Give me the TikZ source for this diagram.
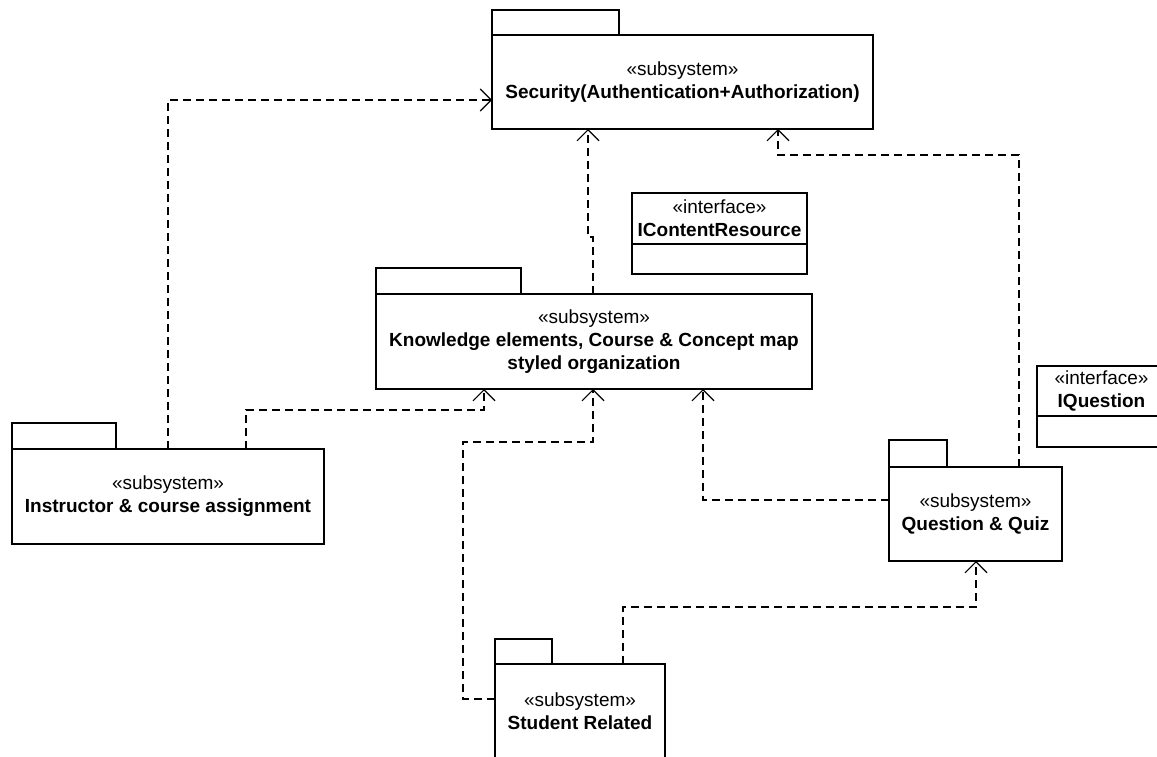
\documentclass[tikz,border=0pt]{standalone}
\usepackage{fontspec}
\setmainfont{Liberation Sans}
\usetikzlibrary{arrows.meta}
\begin{document}
\begin{tikzpicture}[x=1pt,y=-1pt,
  box/.style={draw, line width=1.8pt, rectangle, inner sep=0pt, outer sep=0pt, align=center,
    font=\fontsize{19}{23}\selectfont},
  dep/.style={draw, line width=1.9pt, dash pattern=on 8pt off 5pt,
    -{Straight Barb[length=11pt,width=22pt,line width=1.1pt]}}]
\useasboundingbox (0,0) rectangle (1157,757);
\clip (0,0) rectangle (1157,757);

% Security
\node[box, minimum width=127pt, minimum height=25pt] (sectab) at (555.5,22.5) {};
\node[box, minimum width=381pt, minimum height=94pt] (sec) at (682.5,82) {«subsystem»\\\textbf{Security(Authentication+Authorization)}};

% Knowledge
\node[box, minimum width=145pt, minimum height=26pt] (knowtab) at (448.5,281) {};
\node[box, minimum width=436pt, minimum height=95pt] (know) at (594,341.5) {«subsystem»\\\textbf{Knowledge elements, Course \& Concept map}\\\textbf{styled organization}};

% Instructor
\node[box, minimum width=104pt, minimum height=26pt] (instrtab) at (64,436) {};
\node[box, minimum width=312pt, minimum height=95pt] (instr) at (168,496.5) {«subsystem»\\\textbf{Instructor \& course assignment}};

% Question & Quiz
\node[box, minimum width=58pt, minimum height=27pt] (qqtab) at (918,453.5) {};
\node[box, minimum width=173pt, minimum height=94pt] (qq) at (975.5,514) {«subsystem»\\\textbf{Question \& Quiz}};

% Student Related
\node[box, minimum width=57pt, minimum height=25pt] (stutab) at (523.5,651.5) {};
\node[box, minimum width=170pt, minimum height=94pt] (stu) at (580,711) {«subsystem»\\\textbf{Student Related}};

% Interfaces
\node[box, minimum width=175pt, minimum height=51pt] (icr) at (719.5,218.5) {«interface»\\\textbf{IContentResource}};
\node[box, minimum width=175pt, minimum height=30pt] (icrb) at (719.5,259) {};
\node[box, minimum width=129pt, minimum height=50pt] (iq) at (1101.5,391) {«interface»\\\textbf{IQuestion}};
\node[box, minimum width=129pt, minimum height=31pt] (iqb) at (1101.5,431.5) {};

% Dependencies
\draw[dep] ([xshift=156pt]instr.north west) |- ([yshift=-18pt]sec.west);
\draw[dep] ([xshift=234pt]instr.north west) -- ++(0,-39) -| ([xshift=108pt]know.south west);
\draw[dep] ([xshift=217pt]know.north west) -- ++(0,-57) -| ([xshift=96pt]sec.south west);
\draw[dep] ([xshift=130pt]qq.north west) -- ++(0,-312) -| ([xshift=286pt]sec.south west);
\draw[dep] ([yshift=14pt]qq.west) -| ([xshift=327pt]know.south west);
\draw[dep] ([yshift=12pt]stu.west) -- ++(-32,0) -- ++(0,-257) -| ([xshift=217pt]know.south west);
\draw[dep] ([xshift=128pt]stu.north west) -- ++(0,-57) -| ([xshift=87pt]qq.south west);
\end{tikzpicture}
\end{document}
